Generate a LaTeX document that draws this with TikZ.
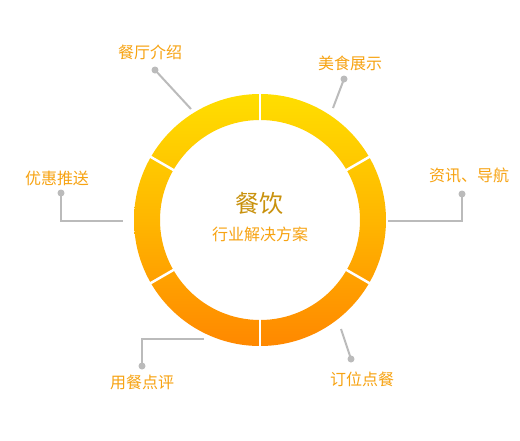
\documentclass[tikz,border=0pt]{standalone}
\usepackage{fontspec}
\usetikzlibrary{calc}
\newfontfamily\cjk{Noto Sans CJK SC}
\definecolor{lbl}{HTML}{F7A312}
\definecolor{ttl}{HTML}{C9920E}
\definecolor{lnk}{HTML}{BBBBBB}
\definecolor{ringtop}{HTML}{FFDE00}
\definecolor{ringmid}{HTML}{FFB600}
\definecolor{ringbot}{HTML}{FF8800}
\tikzset{
  lbltext/.style={font=\cjk\fontsize{16}{16}\selectfont, text=lbl, inner sep=0pt},
  dotnode/.style={circle, fill=lnk, minimum size=7pt, inner sep=0pt},
  link/.style={draw=lnk, line width=2pt},
  gapline/.style={draw=white, line width=2.5pt}
}
\begin{document}
\begin{tikzpicture}[x=1pt,y=-1pt]
\useasboundingbox[fill=white] (0,0) rectangle (520,440);
\coordinate (c) at (260,220);
% ring
\shade[top color=ringtop, bottom color=ringbot, middle color=ringmid, even odd rule]
  (c) circle (126) (c) circle (100);
\foreach \a in {90,30,-30,-90,150,210}{
  \draw[gapline] ($(c)+(\a:98)$) -- ($(c)+(\a:128)$);
}
% center text
\node[font=\cjk\fontsize{24}{24}\selectfont, text=ttl, inner sep=0pt] (title) at (259,203) {餐饮};
\node[lbltext] (sub) at (260,234) {行业解决方案};
% callouts
\node[lbltext] (t1) at (150,52) {餐厅介绍};
\node[dotnode] (d1) at (155,70) {};
\coordinate (e1) at (191,109);
\draw[link] (d1.center) -- (e1);

\node[lbltext] (t2) at (350,63) {美食展示};
\node[dotnode] (d2) at (344,79) {};
\coordinate (e2) at (333,108);
\draw[link] (d2.center) -- (e2);

\node[lbltext] (t3) at (469,175) {资讯、导航};
\node[dotnode] (d3) at (462,194) {};
\coordinate (e3) at (388,221);
\draw[link] (d3.center) |- (e3);

\node[lbltext] (t4) at (57,178) {优惠推送};
\node[dotnode] (d4) at (61,193) {};
\coordinate (e4) at (123,221);
\draw[link] (d4.center) |- (e4);

\node[lbltext] (t5) at (142,382) {用餐点评};
\node[dotnode] (d5) at (142,366) {};
\coordinate (e5) at (204,339);
\draw[link] (d5.center) |- (e5);

\node[lbltext] (t6) at (362,379) {订位点餐};
\node[dotnode] (d6) at (351,359) {};
\coordinate (e6) at (341,329);
\draw[link] (d6.center) -- (e6);
\end{tikzpicture}
\end{document}
